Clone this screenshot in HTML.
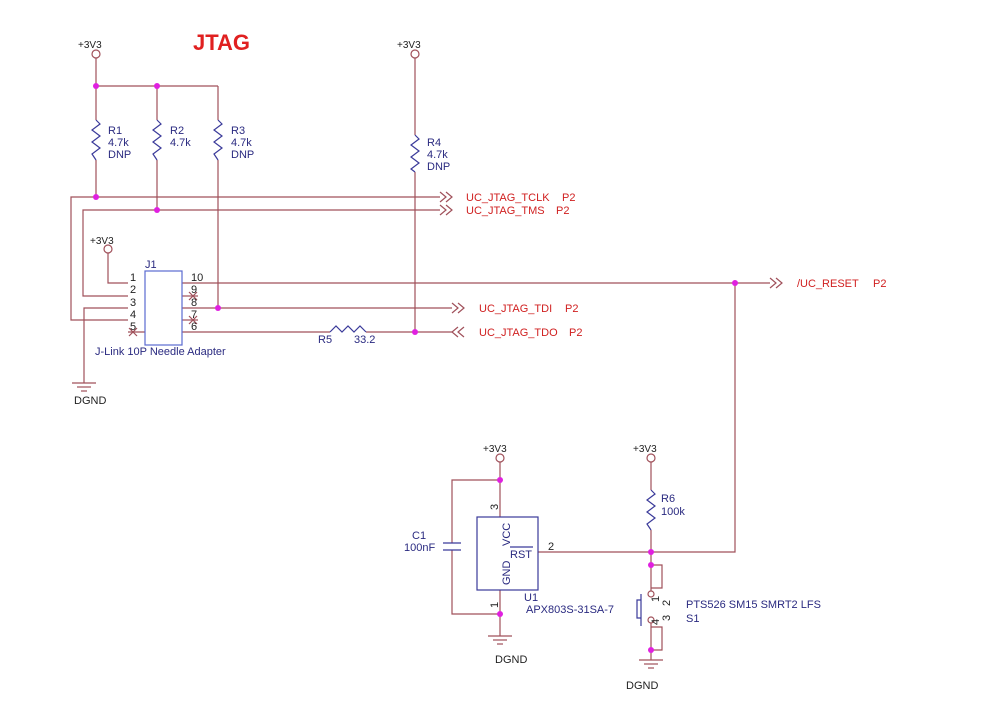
<!DOCTYPE html>
<html><head><style>body{margin:0;background:#fff}</style></head><body>
<svg width="999" height="696" viewBox="0 0 999 696" xmlns="http://www.w3.org/2000/svg" font-family="Liberation Sans, sans-serif">
<g stroke="#a0505a" stroke-width="1.2" fill="none">
<line x1="96" y1="58" x2="96" y2="120"/><line x1="96" y1="86" x2="218" y2="86"/>
<line x1="157" y1="86" x2="157" y2="120"/><line x1="218" y1="86" x2="218" y2="120"/>
<line x1="96" y1="160" x2="96" y2="197"/><line x1="157" y1="160" x2="157" y2="210"/><line x1="218" y1="160" x2="218" y2="308"/>
<line x1="415" y1="58" x2="415" y2="135"/><line x1="415" y1="172" x2="415" y2="332"/>
<polyline points="440,197 71,197 71,320 128,320"/>
<polyline points="440,210 83,210 83,296 128,296"/>
<polyline points="128,308 84,308 84,383"/>
<polyline points="108,253 108,283 128,283"/>
<line x1="128" y1="332" x2="145" y2="332"/>
<line x1="182" y1="283" x2="770" y2="283"/>
<line x1="182" y1="296" x2="198" y2="296"/>
<line x1="182" y1="308" x2="452" y2="308"/>
<line x1="182" y1="320" x2="198" y2="320"/>
<line x1="182" y1="332" x2="330" y2="332"/><line x1="366" y1="332" x2="452" y2="332"/>
<polyline points="735,283 735,552 651,552"/>
<line x1="500" y1="462" x2="500" y2="517"/>
<polyline points="500,480 452,480 452,543"/><polyline points="452,550 452,614 500,614"/>
<line x1="500" y1="590" x2="500" y2="636"/>
<line x1="538" y1="552" x2="651" y2="552"/>
<line x1="651" y1="462" x2="651" y2="490"/><line x1="651" y1="530" x2="651" y2="591"/>
<polyline points="651,565 662,565 662,588 651,588"/>
<polyline points="651,623 651,660"/>
<polyline points="651,627 662,627 662,650 651,650"/>
<line x1="72" y1="383" x2="96" y2="383"/><line x1="77" y1="387" x2="91" y2="387"/><line x1="81" y1="391" x2="87" y2="391"/>
<line x1="488" y1="636" x2="512" y2="636"/><line x1="493" y1="640" x2="507" y2="640"/><line x1="497" y1="644" x2="503" y2="644"/>
<line x1="639" y1="660" x2="663" y2="660"/><line x1="644" y1="664" x2="658" y2="664"/><line x1="648" y1="668" x2="654" y2="668"/>
<circle cx="96" cy="54" r="4"/><circle cx="415" cy="54" r="4"/><circle cx="108" cy="249" r="4"/><circle cx="500" cy="458" r="4"/><circle cx="651" cy="458" r="4"/>
<polyline points="440,192 446,197 440,202"/><polyline points="446,192 452,197 446,202"/>
<polyline points="440,205 446,210 440,215"/><polyline points="446,205 452,210 446,215"/>
<polyline points="452,303 458,308 452,313"/><polyline points="458,303 464,308 458,313"/>
<polyline points="770,278 776,283 770,288"/><polyline points="776,278 782,283 776,288"/>
<polyline points="458,327 452,332 458,337"/><polyline points="464,327 458,332 464,337"/>
<line x1="129" y1="328" x2="137" y2="336"/><line x1="137" y1="328" x2="129" y2="336"/>
<line x1="189" y1="292" x2="197" y2="300"/><line x1="197" y1="292" x2="189" y2="300"/>
<line x1="189" y1="316" x2="197" y2="324"/><line x1="197" y1="316" x2="189" y2="324"/>
<circle cx="651" cy="594" r="3"/><circle cx="651" cy="620" r="3"/>
</g>
<g stroke="#3a3a9a" stroke-width="1.2" fill="none">
<polyline points="96,120 100,124 92,130 100,136 92,142 100,148 92,154 96,160"/>
<polyline points="157,120 161,124 153,130 161,136 153,142 161,148 153,154 157,160"/>
<polyline points="218,120 222,124 214,130 222,136 214,142 222,148 214,154 218,160"/>
<polyline points="415,135 419,139 411,145 419,151 411,157 419,163 411,169 415,172"/>
<polyline points="651,490 655,494 647,500 655,506 647,512 655,518 647,524 651,530"/>
<polyline points="330,332 336,326 342,332 348,326 354,332 360,326 366,332"/>
<rect x="145" y="271" width="37" height="74" stroke="#5a6ad0"/>
<rect x="477" y="517" width="61" height="73"/>
<line x1="443" y1="543" x2="461" y2="543"/><line x1="443" y1="550" x2="461" y2="550"/>
<line x1="641" y1="594" x2="641" y2="626"/><polyline points="641,600 637,600 637,618 641,618"/>
<line x1="510" y1="547" x2="533" y2="547"/>
</g>
<g fill="#e020e0">
<circle cx="96" cy="86" r="3"/><circle cx="157" cy="86" r="3"/><circle cx="96" cy="197" r="3"/><circle cx="157" cy="210" r="3"/>
<circle cx="218" cy="308" r="3"/><circle cx="415" cy="332" r="3"/><circle cx="735" cy="283" r="3"/>
<circle cx="500" cy="480" r="3"/><circle cx="500" cy="614" r="3"/><circle cx="651" cy="552" r="3"/><circle cx="651" cy="565" r="3"/><circle cx="651" cy="650" r="3"/>
</g>
<g font-size="11" fill="#222">
<text x="78" y="48" font-size="10">+3V3</text><text x="397" y="48" font-size="10">+3V3</text><text x="90" y="244" font-size="10">+3V3</text><text x="483" y="452" font-size="10">+3V3</text><text x="633" y="452" font-size="10">+3V3</text>
<text x="74" y="404">DGND</text><text x="495" y="663">DGND</text><text x="626" y="689">DGND</text>
<text x="130" y="281">1</text><text x="130" y="293">2</text><text x="130" y="306">3</text><text x="130" y="318">4</text><text x="130" y="330">5</text>
<text x="191" y="281">10</text><text x="191" y="293">9</text><text x="191" y="306">8</text><text x="191" y="318">7</text><text x="191" y="330">6</text>
<text x="548" y="550">2</text>
<text x="498" y="510" transform="rotate(-90 498 510)">3</text>
<text x="498" y="608" transform="rotate(-90 498 608)">1</text>
<text x="659" y="602" transform="rotate(-90 659 602)">1</text>
<text x="670" y="606" transform="rotate(-90 670 606)">2</text>
<text x="659" y="625" transform="rotate(-90 659 625)">4</text>
<text x="670" y="621" transform="rotate(-90 670 621)">3</text>
</g>
<g font-size="11" fill="#2a2a80">
<text x="108" y="134">R1</text><text x="108" y="146">4.7k</text><text x="108" y="158">DNP</text>
<text x="170" y="134">R2</text><text x="170" y="146">4.7k</text>
<text x="231" y="134">R3</text><text x="231" y="146">4.7k</text><text x="231" y="158">DNP</text>
<text x="427" y="146">R4</text><text x="427" y="158">4.7k</text><text x="427" y="170">DNP</text>
<text x="145" y="268">J1</text><text x="95" y="355">J-Link 10P Needle Adapter</text>
<text x="318" y="343">R5</text><text x="354" y="343">33.2</text>
<text x="412" y="539">C1</text><text x="404" y="551">100nF</text>
<text x="524" y="601">U1</text><text x="526" y="613">APX803S-31SA-7</text>
<text x="661" y="502">R6</text><text x="661" y="515">100k</text>
<text x="686" y="608">PTS526 SM15 SMRT2 LFS</text><text x="686" y="622">S1</text>
<text x="510" y="558">RST</text>
<text x="510" y="546" transform="rotate(-90 510 546)">VCC</text>
<text x="510" y="585" transform="rotate(-90 510 585)">GND</text>
</g>
<g font-size="11" fill="#d02020">
<text x="466" y="201">UC_JTAG_TCLK</text><text x="562" y="201">P2</text>
<text x="466" y="214">UC_JTAG_TMS</text><text x="556" y="214">P2</text>
<text x="479" y="312">UC_JTAG_TDI</text><text x="565" y="312">P2</text>
<text x="479" y="336">UC_JTAG_TDO</text><text x="569" y="336">P2</text>
<text x="797" y="287">/UC_RESET</text><text x="873" y="287">P2</text>
<text x="193" y="50" font-size="22" font-weight="bold" fill="#e02020">JTAG</text>
</g>
</svg>
</body></html>
